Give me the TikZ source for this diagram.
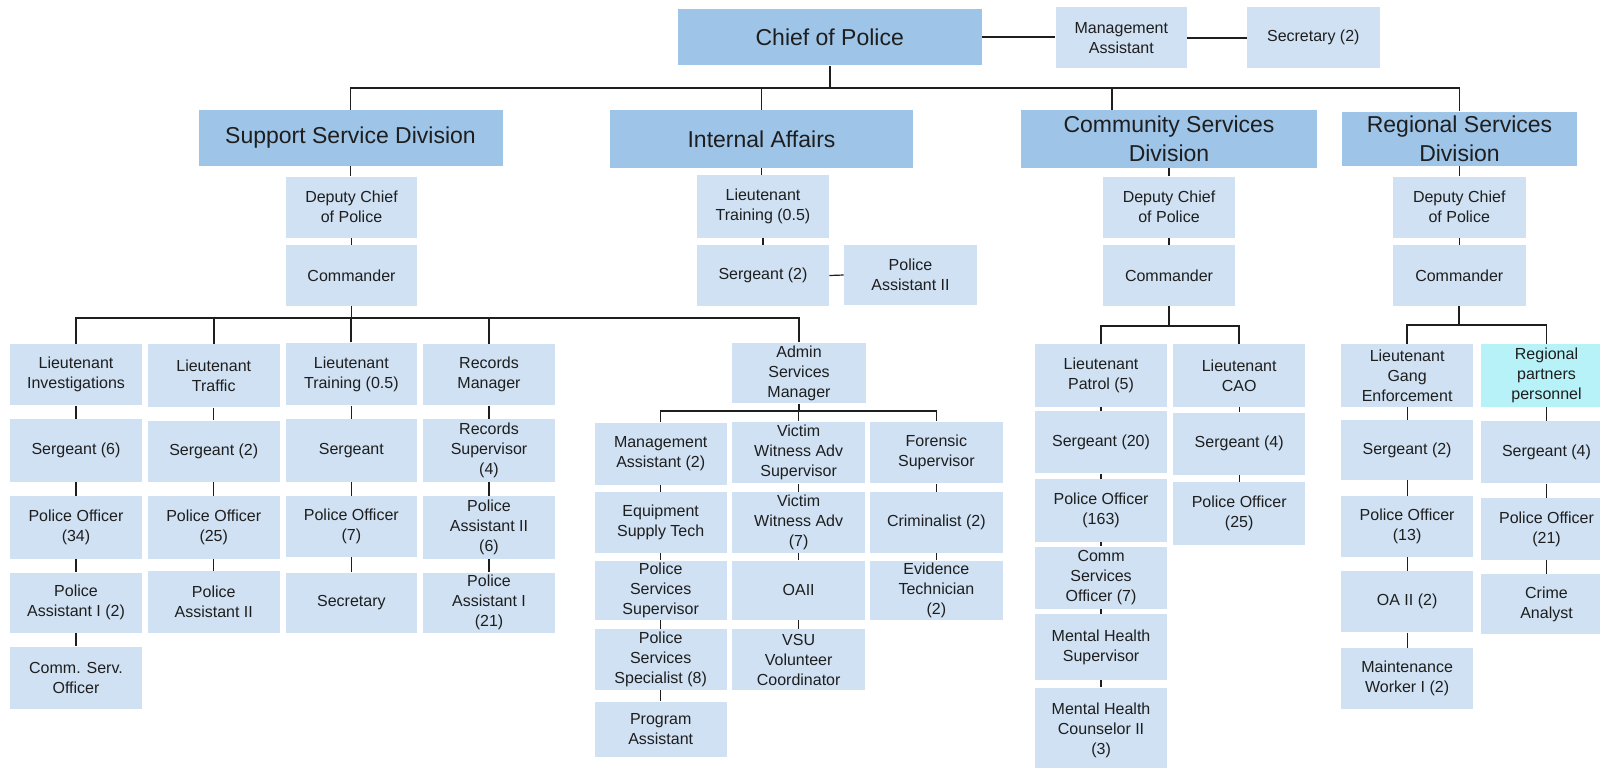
\documentclass[tikz,border=0pt]{standalone}
\usepackage{fontspec}
\setmainfont{Liberation Sans}
\definecolor{boxlight}{HTML}{CFE1F3}
\definecolor{boxdark}{HTML}{9EC4E8}
\definecolor{boxpartner}{HTML}{B6F2F8}
\definecolor{ink}{HTML}{1E1E1E}
\tikzset{
  orgbase/.style={inner sep=0pt, align=center, text=ink, font=\fontsize{8pt}{10pt}\selectfont},
  lite/.style={orgbase, fill=boxlight},
  dark/.style={orgbase, fill=boxdark, font=\fontsize{11.5pt}{14.5pt}\selectfont},
  partner/.style={orgbase, fill=boxpartner},
  bus/.style={line width=0.9pt, draw=ink},
  subbus/.style={line width=0.7pt, draw=ink},
  tick/.style={line width=0.6pt, draw=ink},
}
% \orgbox[style]{name}{x1}{y1}{x2}{y2}{text}, corners in pixel units
\newcommand\orgbox[7][lite]{%
  \node[#1, minimum width={(#5-#3)*0.5pt}, minimum height={(#6-#4)*0.5pt}]
    (#2) at ({(#3+#5)/2},{(#4+#6)/2}) {#7};}
% vertical tick between two stacked boxes
\newcommand\tk[2]{\draw[tick] (#1.south) -- (#1.south |- #2.north);}
\begin{document}
\begin{tikzpicture}[x=0.5pt,y=-0.5pt]
\fill[white] (0,0) rectangle (1600,767);
\useasboundingbox (0,0) rectangle (1600,767);

% bus levels
\coordinate (busTop) at (0,88.3);
\coordinate (busSup) at (0,317.7);
\coordinate (busAdm) at (0,411);
\coordinate (busCom) at (0,326);
\coordinate (busReg) at (0,325);

% top level
\orgbox[dark]{chief}{677.5}{9.3}{982}{65.3}{Chief of Police}
\orgbox{mgmt}{1055.6}{7.3}{1187}{68.3}{Management\\Assistant}
\orgbox{secr}{1247}{7.3}{1379.6}{68.3}{Secretary (2)}

% divisions
\orgbox[dark]{ssd}{198.5}{110}{502.5}{165.7}{Support Service Division}
\orgbox[dark]{ia}{610}{110}{913}{167.7}{Internal Affairs}
\orgbox[dark]{csd}{1021}{110}{1317}{167.7}{Community Services\\Division}
\orgbox[dark]{rsd}{1342}{111.7}{1577}{165.7}{Regional Services\\Division}
\coordinate (csdDrop) at (1112,110);

% support service division
\orgbox{ssdep}{285.7}{176.7}{417.3}{237.7}{Deputy Chief\\of Police}
\orgbox{sscmd}{285.7}{245}{417.3}{306}{Commander}

\orgbox{inv1}{9.6}{344.3}{142.4}{405.3}{Lieutenant\\Investigations}
\orgbox{inv2}{9.6}{419.3}{142.4}{482}{Sergeant (6)}
\orgbox{inv3}{9.6}{496}{142.4}{558.7}{Police Officer\\(34)}
\orgbox{inv4}{9.6}{572.7}{142.4}{632.7}{Police\\Assistant I (2)}
\orgbox{inv5}{9.6}{646.7}{142.4}{709.3}{Comm. Serv.\\Officer}

\orgbox{trf1}{147.7}{344.3}{279.8}{407.3}{Lieutenant\\Traffic}
\orgbox{trf2}{147.7}{420.7}{279.8}{482}{Sergeant (2)}
\orgbox{trf3}{147.7}{496}{279.8}{558.7}{Police Officer\\(25)}
\orgbox{trf4}{147.7}{571}{279.8}{632.7}{Police\\Assistant II}

\orgbox{trn1}{285.5}{342.7}{417.2}{405.3}{Lieutenant\\Training (0.5)}
\orgbox{trn2}{285.5}{419.3}{417.2}{482}{Sergeant}
\orgbox{trn3}{285.5}{496}{417.2}{556.7}{Police Officer\\(7)}
\orgbox{trn4}{285.5}{572.7}{417.2}{632.7}{Secretary}

\orgbox{rec1}{423}{344.3}{555}{405.3}{Records\\Manager}
\orgbox{rec2}{423}{419.3}{555}{482}{Records\\Supervisor\\(4)}
\orgbox{rec3}{423}{496}{555}{558.7}{Police\\Assistant II\\(6)}
\orgbox{rec4}{423}{572.7}{555}{632.7}{Police\\Assistant I\\(21)}

\orgbox{asm}{732}{342.7}{866}{403.3}{Admin\\Services\\Manager}

\orgbox{adA1}{594.7}{422.7}{726.7}{485}{Management\\Assistant (2)}
\orgbox{adA2}{594.7}{492.3}{726.7}{552.7}{Equipment\\Supply Tech}
\orgbox{adA3}{594.7}{560.7}{726.7}{620}{Police\\Services\\Supervisor}
\orgbox{adA4}{594.7}{629.3}{726.7}{690}{Police\\Services\\Specialist (8)}
\orgbox{adA5}{594.7}{701.7}{726.7}{756.7}{Program\\Assistant}

\orgbox{adB1}{732.3}{421.7}{865}{483.3}{Victim\\Witness Adv\\Supervisor}
\orgbox{adB2}{732.3}{492.3}{865}{552.7}{Victim\\Witness Adv\\(7)}
\orgbox{adB3}{732.3}{560.7}{865}{620}{OAII}
\orgbox{adB4}{732.3}{629.3}{865}{690}{VSU\\Volunteer\\Coordinator}

\orgbox{adC1}{870}{421.7}{1002.7}{483.3}{Forensic\\Supervisor}
\orgbox{adC2}{870}{492.3}{1002.7}{552.7}{Criminalist (2)}
\orgbox{adC3}{870}{560.7}{1002.7}{620}{Evidence\\Technician\\(2)}

% internal affairs
\orgbox{ialt}{697}{175}{829}{237.7}{Lieutenant\\Training (0.5)}
\orgbox{iasgt}{697}{245}{829}{306}{Sergeant (2)}
\orgbox{iapa}{844}{245}{977}{305}{Police\\Assistant II}

% community services division
\orgbox{csdep}{1103}{176.7}{1235}{237.7}{Deputy Chief\\of Police}
\orgbox{cscmd}{1103}{245}{1235}{306}{Commander}

\orgbox{pat1}{1034.8}{344.3}{1167.3}{406.7}{Lieutenant\\Patrol (5)}
\orgbox{pat2}{1034.8}{411}{1167.3}{473.3}{Sergeant (20)}
\orgbox{pat3}{1034.8}{479}{1167.3}{541.7}{Police Officer\\(163)}
\orgbox{pat4}{1034.8}{546.7}{1167.3}{609}{Comm\\Services\\Officer (7)}
\orgbox{pat5}{1034.8}{614.3}{1167.3}{680}{Mental Health\\Supervisor}
\orgbox{pat6}{1034.8}{687.7}{1167.3}{772}{Mental Health\\Counselor II\\(3)}

\orgbox{cao1}{1173}{344.3}{1305.4}{406.7}{Lieutenant\\CAO}
\orgbox{cao2}{1173}{412.7}{1305.4}{475}{Sergeant (4)}
\orgbox{cao3}{1173}{482.3}{1305.4}{545}{Police Officer\\(25)}

% regional services division
\orgbox{rsdep}{1393}{176.7}{1525.5}{237.7}{Deputy Chief\\of Police}
\orgbox{rscmd}{1393}{245}{1525.5}{306}{Commander}

\orgbox{gng1}{1341.2}{344.3}{1473}{406.7}{Lieutenant\\Gang\\Enforcement}
\orgbox{gng2}{1341.2}{420}{1473}{480}{Sergeant (2)}
\orgbox{gng3}{1341.2}{496}{1473}{556.7}{Police Officer\\(13)}
\orgbox{gng4}{1341.2}{571}{1473}{632.3}{OA II (2)}
\orgbox{gng5}{1341.2}{648.3}{1473}{709.3}{Maintenance\\Worker I (2)}

\orgbox[partner]{prt1}{1480.5}{344.3}{1612.5}{406.7}{Regional\\partners\\personnel}
\orgbox{prt2}{1480.5}{421}{1612.5}{483.3}{Sergeant (4)}
\orgbox{prt3}{1480.5}{498.3}{1612.5}{560}{Police Officer\\(21)}
\orgbox{prt4}{1480.5}{574.3}{1612.5}{634}{Crime\\Analyst}

% connectors: top level
\draw[bus] (chief.east) -- (chief.east -| mgmt.west);
\draw[bus] (mgmt.east) -- (mgmt.east -| secr.west);
\draw[bus] (chief.south) -- (chief.south |- busTop);
\draw[bus] (ssd.north) |- (rsd.north |- busTop) -- (rsd.north);
\draw[bus] (ia.north) -- (ia.north |- busTop);
\draw[bus] (csdDrop) -- (csdDrop |- busTop);

% support service division
\tk{ssd}{ssdep} \tk{ssdep}{sscmd}
\draw[bus] (sscmd.south) -- (sscmd.south |- busSup);
\draw[bus] (inv1.north) |- (asm.north |- busSup) -- (asm.north);
\draw[bus] (trf1.north) -- (trf1.north |- busSup);
\draw[bus] (trn1.north) -- (trn1.north |- busSup);
\draw[bus] (rec1.north) -- (rec1.north |- busSup);
\tk{inv1}{inv2} \tk{inv2}{inv3} \tk{inv3}{inv4} \tk{inv4}{inv5}
\tk{trf1}{trf2} \tk{trf2}{trf3} \tk{trf3}{trf4}
\tk{trn1}{trn2} \tk{trn2}{trn3} \tk{trn3}{trn4}
\tk{rec1}{rec2} \tk{rec2}{rec3} \tk{rec3}{rec4}

\draw[subbus] (asm.south) -- (asm.south |- busAdm);
\draw[subbus] (adA1.north) |- (adC1.north |- busAdm) -- (adC1.north);
\draw[subbus] (adB1.north) -- (adB1.north |- busAdm);
\tk{adA1}{adA2} \tk{adA2}{adA3} \tk{adA3}{adA4} \tk{adA4}{adA5}
\tk{adB1}{adB2} \tk{adB2}{adB3} \tk{adB3}{adB4}
\tk{adC1}{adC2} \tk{adC2}{adC3}

% internal affairs
\tk{ia}{ialt} \tk{ialt}{iasgt}
\draw[tick] (iasgt.east) -- (iapa.west);

% community services division
\tk{csd}{csdep} \tk{csdep}{cscmd}
\draw[bus] (cscmd.south) -- (cscmd.south |- busCom);
\draw[bus] (pat1.north) |- (cao1.north |- busCom) -- (cao1.north);
\tk{pat1}{pat2} \tk{pat2}{pat3} \tk{pat3}{pat4} \tk{pat4}{pat5} \tk{pat5}{pat6}
\tk{cao1}{cao2} \tk{cao2}{cao3}

% regional services division
\tk{rsd}{rsdep} \tk{rsdep}{rscmd}
\draw[bus] (rscmd.south) -- (rscmd.south |- busReg);
\draw[bus] (gng1.north) |- (prt1.north |- busReg) -- (prt1.north);
\tk{gng1}{gng2} \tk{gng2}{gng3} \tk{gng3}{gng4} \tk{gng4}{gng5}
\tk{prt1}{prt2} \tk{prt2}{prt3} \tk{prt3}{prt4}
\end{tikzpicture}
\end{document}
